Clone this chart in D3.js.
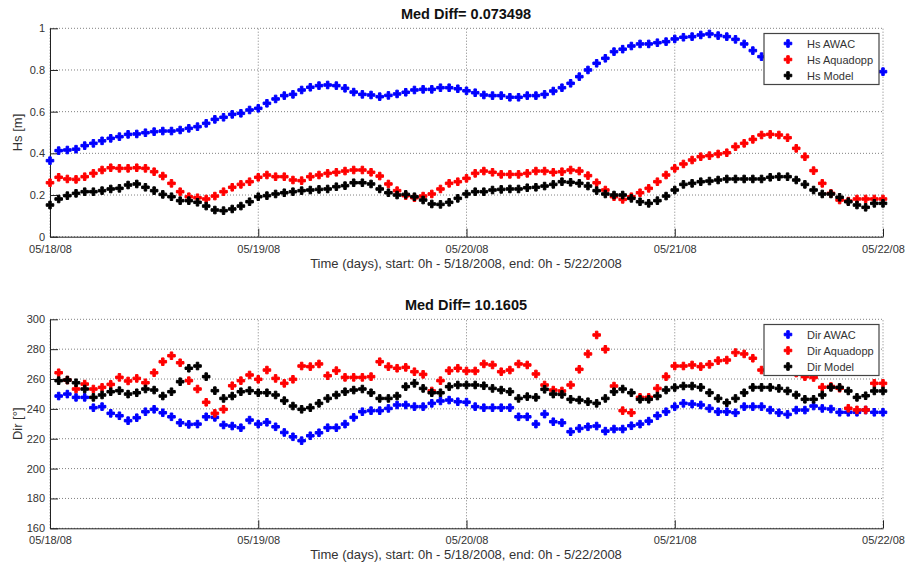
<!DOCTYPE html>
<html>
<head>
<meta charset="utf-8">
<script src="https://cdn.jsdelivr.net/npm/d3@7"></script>
<style>
  html, body { margin: 0; padding: 0; background: #fff; }
  svg { display: block; font-family: "Liberation Sans", Arial, sans-serif; }
</style>
</head>
<body>
<svg id="chart" width="906" height="566"></svg>
<script>
// ---------------- DATA ----------------
const dayTicks = [0, 24, 48, 72, 96];
const dayLabels = ["05/18/08", "05/19/08", "05/20/08", "05/21/08", "05/22/08"];
const xAxisTitle = "Time (days), start: 0h - 5/18/2008, end: 0h - 5/22/2008";

const hsTicks = [0, 0.2, 0.4, 0.6, 0.8, 1];
const hsTickLabels = ["0", "0.2", "0.4", "0.6", "0.8", "1"];
const dirTicks = [160, 180, 200, 220, 240, 260, 280, 300];
const dirTickLabels = ["160", "180", "200", "220", "240", "260", "280", "300"];

const hsTitle = "Med Diff= 0.073498";
const dirTitle = "Med Diff= 10.1605";
const hsLabel = "Hs [m]";
const dirLabel = "Dir [°]";
const hsSeriesNames = ["Hs AWAC", "Hs Aquadopp", "Hs Model"];
const dirSeriesNames = ["Dir AWAC", "Dir Aquadopp", "Dir Model"];

// hours since 0h 5/18/2008
const hsHours = [0,1,2,3,4,5,6,7,8,9,10,11,12,13,14,15,16,17,18,19,20,21,22,23,
  24,25,26,27,28,29,30,31,32,33,34,35,36,37,38,39,40,41,42,43,44,45,46,47,
  48,49,50,51,52,53,54,55,56,57,58,59,60,61,62,63,64,65,66,67,68,69,70,71,
  72,73,74,75,76,77,78,79,80,81,82,83,84,85,86,87,88,89,90,91,92,93,94,95,96];

const hsAWAC = [0.365,0.413,0.416,0.42,0.437,0.448,0.46,0.472,0.48,0.491,0.493,0.499,0.504,0.507,0.507,0.512,0.52,0.528,0.544,0.563,0.573,0.587,0.592,0.608,
  0.616,0.64,0.661,0.677,0.683,0.704,0.717,0.725,0.728,0.725,0.712,0.694,0.683,0.68,0.672,0.678,0.685,0.693,0.704,0.707,0.707,0.715,0.715,0.71,
  0.70,0.691,0.68,0.677,0.677,0.669,0.669,0.677,0.677,0.683,0.699,0.715,0.736,0.768,0.80,0.832,0.856,0.888,0.90,0.915,0.925,0.925,0.931,0.936,
  0.949,0.957,0.96,0.968,0.973,0.965,0.96,0.947,0.925,0.893,0.864,0.85,0.84,0.835,0.83,0.825,0.82,0.815,0.81,0.805,0.80,0.80,0.795,0.795,0.792];

const hsAquadopp = [0.259,0.285,0.277,0.275,0.288,0.304,0.32,0.331,0.328,0.328,0.331,0.328,0.312,0.291,0.256,0.216,0.192,0.187,0.181,0.195,0.216,0.237,0.251,0.264,
  0.285,0.296,0.288,0.288,0.272,0.269,0.288,0.296,0.304,0.309,0.315,0.32,0.32,0.309,0.291,0.253,0.221,0.197,0.187,0.195,0.205,0.229,0.256,0.264,
  0.28,0.304,0.315,0.309,0.299,0.299,0.299,0.304,0.315,0.315,0.309,0.312,0.32,0.315,0.293,0.259,0.224,0.192,0.179,0.192,0.211,0.232,0.264,0.296,
  0.328,0.349,0.368,0.384,0.389,0.397,0.403,0.432,0.448,0.467,0.488,0.491,0.488,0.475,0.424,0.384,0.317,0.256,0.208,0.176,0.171,0.181,0.181,0.181,0.181];

const hsModel = [0.152,0.181,0.197,0.208,0.216,0.216,0.221,0.229,0.232,0.248,0.253,0.237,0.221,0.203,0.192,0.173,0.173,0.165,0.147,0.128,0.125,0.133,0.147,0.168,
  0.192,0.197,0.205,0.211,0.216,0.221,0.224,0.227,0.229,0.24,0.245,0.259,0.259,0.253,0.229,0.211,0.20,0.203,0.192,0.176,0.157,0.155,0.165,0.184,
  0.205,0.216,0.216,0.224,0.227,0.229,0.229,0.235,0.237,0.243,0.251,0.264,0.261,0.256,0.243,0.221,0.205,0.20,0.20,0.184,0.168,0.16,0.173,0.195,
  0.224,0.251,0.256,0.264,0.267,0.272,0.277,0.277,0.277,0.277,0.277,0.285,0.288,0.288,0.272,0.251,0.224,0.205,0.205,0.189,0.168,0.152,0.141,0.16,0.16];

const dirHours = [1,2,3,4,5,6,7,8,9,10,11,12,13,14,15,16,17,18,19,20,21,22,23,24,
  25,26,27,28,29,30,31,32,33,34,35,36,37,38,39,40,41,42,43,44,45,46,47,48,
  49,50,51,52,53,54,55,56,57,58,59,60,61,62,63,64,65,66,67,68,69,70,71,72,
  73,74,75,76,77,78,79,80,81,82,83,84,85,86,87,88,89,90,91,92,93,94,95,96];

const dirAWAC = [248.6,249.9,247.7,247.7,240.8,241.5,237.0,235.4,232.1,234.1,238.1,239.7,237.4,234.7,230.7,229.6,229.8,234.7,234.3,229.2,228.5,227.4,232.5,229.8,
  231.0,228.0,224.2,221.3,218.7,222.0,224.0,227.4,227.4,229.8,234.3,238.1,238.8,238.8,240.3,242.6,242.6,241.5,241.5,243.7,245.3,245.9,244.8,244.5,
  241.5,240.8,240.8,240.8,240.8,234.7,234.7,229.8,236.5,231.4,230.7,224.7,226.9,228.0,228.5,225.1,226.5,226.5,228.7,229.8,231.8,235.4,238.1,241.5,
  243.7,243.2,242.6,240.3,238.1,238.1,237.4,241.5,241.5,241.5,239.2,237.4,236.3,239.2,239.2,241.9,240.3,239.9,237.7,237.7,237.7,239.2,237.7,237.7];

const dirAquadopp = [264.2,259.3,253.3,256.6,253.3,254.4,256.4,261.1,258.7,260.4,257.5,264.2,271.6,275.6,270.9,258.9,253.3,244.4,237.0,239.7,255.5,258.9,262.7,259.8,
  266.0,260.4,257.1,259.8,268.7,268.3,270.1,262.2,265.6,261.1,261.1,261.1,261.6,271.6,268.3,267.2,267.8,264.9,263.1,252.0,258.9,265.6,267.2,265.4,
  265.4,270.1,269.4,264.9,266.0,270.1,269.4,263.4,256.0,252.6,252.0,256.0,266.5,276.8,289.5,279.9,255.3,238.8,237.4,247.7,247.7,253.7,261.6,268.7,
  268.7,269.4,268.3,269.8,272.3,272.7,277.7,276.8,273.9,266.0,265.0,268.0,266.0,264.0,261.6,261.0,254.5,255.0,253.8,240.4,239.3,239.3,257.1,257.1];

const dirModel = [258.9,259.3,257.5,253.3,247.7,249.3,251.5,252.2,249.9,250.8,253.3,252.6,248.6,251.5,258.2,267.2,268.7,261.6,252.2,247.0,248.6,251.5,252.2,250.8,
  250.8,249.3,245.5,241.9,239.7,240.8,243.7,247.0,249.3,251.5,252.6,253.3,250.8,247.0,247.0,248.6,254.9,257.1,253.7,250.8,250.8,254.9,256.0,256.0,
  256.0,255.5,253.7,252.6,251.5,247.0,248.2,247.7,253.1,249.9,249.7,246.4,245.9,244.8,243.7,247.0,251.5,253.3,250.8,246.4,246.4,248.6,252.6,254.3,
  255.3,255.3,254.4,250.8,247.0,244.1,247.0,250.8,254.4,254.4,254.4,253.7,252.0,249.3,246.4,246.4,249.3,254.4,254.4,252.0,247.7,248.8,252.0,252.0];

const seriesColors = ["#0000ff", "#ff0000", "#000000"];

// ---------------- DRAW ----------------
const svg = d3.select("#chart");
svg.append("rect").attr("width", 906).attr("height", 566).attr("fill", "#fff");

const x = d3.scaleLinear().domain([0, 96]).range([50, 883]);
const marker = d3.symbol().type(d3.symbolCross).size(32);

function drawMarker(sel, color) {
  sel.attr("d", marker).attr("fill", color)
    .attr("stroke", color).attr("stroke-width", 1).attr("stroke-linejoin", "round");
}

function panel(opts) {
  const g = svg.append("g");
  const y = d3.scaleLinear().domain(opts.domain).range(opts.range);
  const [y0, y1] = opts.range;

  // grid
  g.append("g").selectAll("line").data(opts.yTicks).join("line")
    .attr("x1", x(0)).attr("x2", x(96))
    .attr("y1", d => y(d)).attr("y2", d => y(d))
    .attr("stroke", "#808080").attr("stroke-width", 1)
    .attr("stroke-dasharray", "1,2");
  g.append("g").selectAll("line").data(dayTicks).join("line")
    .attr("x1", d => x(d)).attr("x2", d => x(d))
    .attr("y1", y0).attr("y2", y1)
    .attr("stroke", "#808080").attr("stroke-width", 1)
    .attr("stroke-dasharray", "1,2");

  // axes
  const ya = d3.axisLeft(y).tickValues(opts.yTicks)
    .tickFormat((d, i) => opts.yLabels[i]).tickSizeInner(-8).tickSizeOuter(0).tickPadding(5);
  const yg = g.append("g").attr("transform", `translate(${x(0)},0)`).call(ya);
  const xa = d3.axisBottom(x).tickValues(dayTicks)
    .tickFormat((d, i) => dayLabels[i]).tickSizeInner(-8).tickSizeOuter(0).tickPadding(8.3);
  const xg = g.append("g").attr("transform", `translate(0,${y0})`).call(xa);
  [yg, xg].forEach(a => {
    a.select(".domain").attr("stroke", "#222").attr("stroke-width", 1);
    a.selectAll(".tick line").attr("stroke", "#222");
    a.selectAll(".tick text").attr("fill", "#333").style("font-size", "11px")
      .style("font-family", "'Liberation Sans', Arial, sans-serif");
  });

  // points
  opts.series.forEach((vals, si) => {
    g.append("g").selectAll("path").data(vals).join("path")
      .call(drawMarker, seriesColors[si])
      .attr("transform", (d, i) => `translate(${x(opts.hours[i])},${y(d)})`);
  });

  // titles
  svg.append("text").attr("x", 466).attr("y", opts.titleY)
    .attr("text-anchor", "middle").style("font-size", "14.5px").style("font-weight", "bold")
    .attr("fill", "#111").text(opts.title);
  svg.append("text").attr("x", 466).attr("y", opts.xTitleY)
    .attr("text-anchor", "middle").style("font-size", "13px")
    .attr("fill", "#333").text(xAxisTitle);
  svg.append("text")
    .attr("transform", `translate(22,${(y0 + y1) / 2}) rotate(-90)`)
    .attr("text-anchor", "middle").style("font-size", "13px")
    .attr("fill", "#333").text(opts.yTitle);

  // legend
  const lg = svg.append("g").attr("transform", `translate(764,${opts.legendTop})`);
  lg.append("rect").attr("x", 0).attr("y", 0).attr("width", 115).attr("height", 51)
    .attr("fill", "#fff").attr("stroke", "#444").attr("stroke-width", 1.2);
  opts.names.forEach((n, i) => {
    lg.append("path").call(drawMarker, seriesColors[i])
      .attr("transform", `translate(24,${10 + i * 16})`);
    lg.append("text").attr("x", 43).attr("y", 14 + i * 16)
      .style("font-size", "11px").attr("fill", "#333").text(n);
  });
}

panel({
  domain: [0, 1], range: [236.7, 28.3], yTicks: hsTicks, yLabels: hsTickLabels,
  series: [hsAWAC, hsAquadopp, hsModel], hours: hsHours,
  title: hsTitle, titleY: 18.5, xTitleY: 267.5, yTitle: hsLabel,
  names: hsSeriesNames, legendTop: 33.5
});
panel({
  domain: [160, 300], range: [528.3, 319.3], yTicks: dirTicks, yLabels: dirTickLabels,
  series: [dirAWAC, dirAquadopp, dirModel], hours: dirHours,
  title: dirTitle, titleY: 309.5, xTitleY: 559, yTitle: dirLabel,
  names: dirSeriesNames, legendTop: 324.5
});
</script>
</body>
</html>
